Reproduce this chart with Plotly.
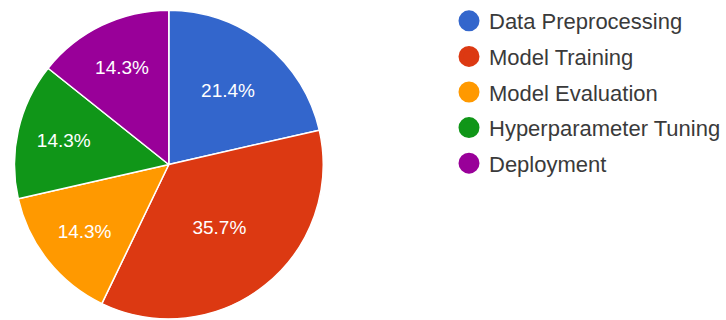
import plotly.graph_objects as go

labels = ["Data Preprocessing", "Model Training", "Model Evaluation",
          "Hyperparameter Tuning", "Deployment"]
values = [3, 5, 2, 2, 2]
colors = ["#3366CC", "#DC3912", "#FF9900", "#109618", "#990099"]

W, H = 726, 320
cx, cy, r = 169.5, 164.5, 155

fig = go.Figure()
fig.add_trace(go.Pie(
    labels=labels, values=values, sort=False, direction="clockwise", rotation=0,
    marker=dict(colors=colors, line=dict(color="white", width=1.5)),
    texttemplate="%{percent:.1%}", textposition="inside",
    insidetextorientation="horizontal",
    textfont=dict(family="Liberation Sans, Arial", size=19, color="white"),
    showlegend=False, hoverinfo="label+percent",
    domain=dict(x=[(cx - r) / W, (cx + r) / W], y=[(H - cy - r) / H, (H - cy + r) / H]),
))
for i, (lab, col) in enumerate(zip(labels, colors)):
    fig.add_trace(go.Scatter(
        x=[None], y=[None], mode="markers", name=lab,
        marker=dict(symbol="circle", size=16, color=col, line=dict(color=col, width=5)),
        legendgroup=str(i), showlegend=True,
    ))

fig.update_layout(
    width=W, height=H, margin=dict(l=0, r=0, t=0, b=0),
    paper_bgcolor="white", plot_bgcolor="white",
    xaxis=dict(visible=False), yaxis=dict(visible=False),
    legend=dict(x=451 / W, y=1, xanchor="left", yanchor="top",
                font=dict(family="Liberation Sans, Arial", size=22, color="#3a3a3a"),
                tracegroupgap=4, bgcolor="rgba(0,0,0,0)"),
)
fig.write_html("out.html", config={"displayModeBar": False},
               post_script="document.body.style.margin='0';")
